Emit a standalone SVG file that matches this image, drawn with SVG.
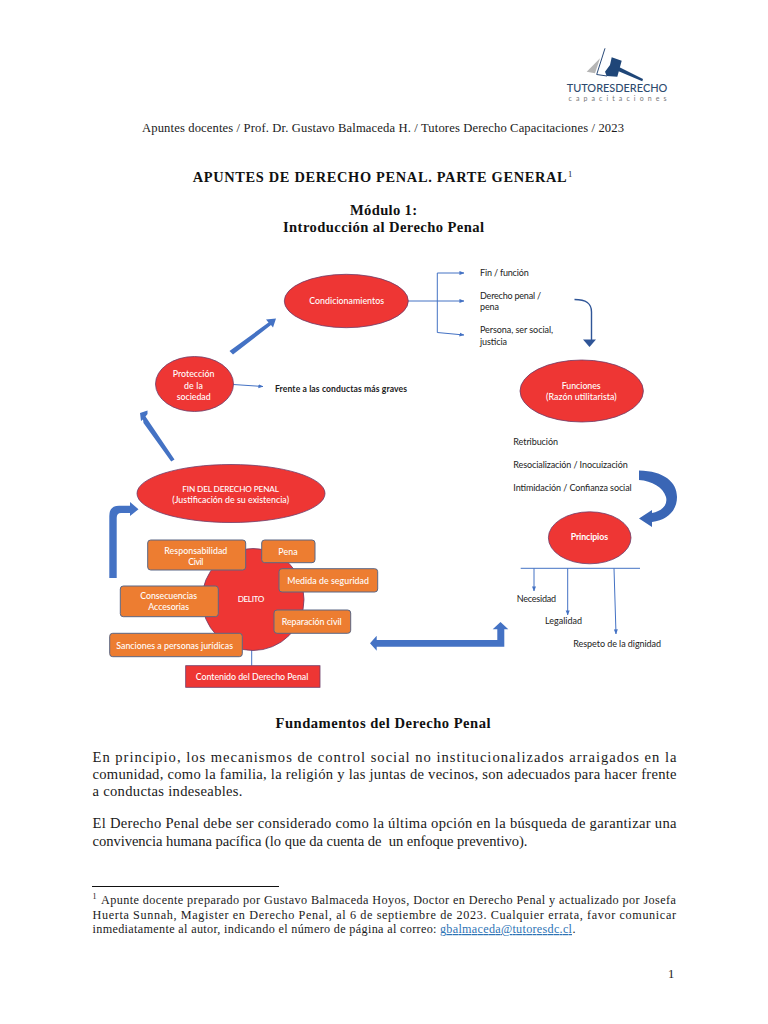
<svg xmlns="http://www.w3.org/2000/svg" width="768" height="1024" viewBox="0 0 768 1024">
<defs>
<style>
.doc{font-family:"Liberation Serif","Times New Roman",serif;fill:#1a1a1a;font-size:14.6px}
.b{font-weight:700;fill:#111}
.d{font-family:Lato,"Open Sans",sans-serif;font-size:9px;fill:#222}
.w{font-family:Lato,"Open Sans",sans-serif;font-size:8.8px;fill:#fff;font-weight:500}
.el{fill:#ee3634;stroke:#6d3c68;stroke-width:.8}
.bx{fill:#ed7d31;stroke:#5b6785;stroke-width:1}
.ln{fill:none;stroke:#4472c4;stroke-width:1}
.fat{fill:#4472c4}
</style>
<marker id="ah" viewBox="0 0 6 6" refX="5.5" refY="3" markerWidth="5" markerHeight="5" orient="auto"><path d="M0 .6L6 3L0 5.4z" fill="#4472c4"/></marker>
</defs>
<rect width="768" height="1024" fill="#fff"/>

<g id="logo">
<path d="M600 58.3L586.7 71.7L595 73.3z" fill="#b5b5b5"/>
<path d="M605 48.3L596.7 74.5L607 76" fill="none" stroke="#2a4a78" stroke-width="1"/>
<path d="M611.7 57.3L621.7 60.7L617.3 76.7L606.7 76L605 71.7L610 65z" fill="#1f4678"/>
<path d="M619 67L643 79L642.3 81.3L618 71z" fill="#1f4678"/>
<text x="566.7" y="91.5" textLength="100.6" lengthAdjust="spacingAndGlyphs" style="font-family:Lato,sans-serif;font-size:11.5px;fill:#2d4a6e;font-weight:500">TUTORESDERECHO</text>
<text x="568.5" y="100.5" textLength="98" lengthAdjust="spacing" style="font-family:Lato,sans-serif;font-size:7px;fill:#777">capacitaciones</text>
</g>

<g id="header">
<text class="doc" x="142" y="132.3" textLength="482" style="font-size:12.6px">Apuntes docentes / Prof. Dr. Gustavo Balmaceda H. / Tutores Derecho Capacitaciones / 2023</text>
<text class="doc b" x="192.7" y="181.7" textLength="374" style="font-size:14.4px">APUNTES DE DERECHO PENAL. PARTE GENERAL</text>
<text class="doc" x="568" y="177" style="font-size:8.5px">1</text>
<text class="doc b" x="350" y="215" textLength="67">Módulo 1:</text>
<text class="doc b" x="283" y="232" textLength="201">Introducción al Derecho Penal</text>
</g>

<g id="connectors">
<path class="ln" d="M408 301H464" marker-end="url(#ah)"/>
<path class="ln" d="M437.3 301V273H464" marker-end="url(#ah)"/>
<path class="ln" d="M437.3 301V332.5L464 335" marker-end="url(#ah)"/>
<path class="ln" d="M233.3 384.5L263 386.5" marker-end="url(#ah)"/>
<path class="ln" d="M520.7 568.3H640"/>
<path class="ln" d="M534 568.3V591" marker-end="url(#ah)"/>
<path class="ln" d="M567.7 568.3V615" marker-end="url(#ah)"/>
<path class="ln" d="M614 568.3L616 634" marker-end="url(#ah)"/>
<path class="ln" d="M251.7 650V665.7"/>
<path d="M574.5 299.5C586 299.5 591.5 303 591.5 312V340" fill="none" stroke="#2f5597" stroke-width="1.4"/>
<path d="M583 339.5H596L589.5 347z" fill="#2f5597"/>
<path class="fat" d="M229.5 351L268.5 322.5L266 319.5L276 318.5L273 327.5L271 325L233 354.5z"/>
<path class="fat" d="M171.2 461.5L143.5 423L143 419.5L141 421L140 413L147.5 410.5L147.5 414L145.5 416.5L174.5 459.5z"/>
<path class="fat" d="M109.3 578V516Q109.3 505.7 119 505.7H130V502L138.5 509.3L130 516V513H121Q116.7 513 116.7 518V578z"/>
<path class="fat" d="M370 643.3L376.7 635.7V640H497.3V629.3H492.7L500.5 622L508.3 629.3H504.3V646.7H376.7V650.7z"/>
<path d="M639 470.5C664 471 677 482 677 497C677 510 668 520 652 522V527L639 518.5L652 510V513C662 511 668 505 666 497C663 487 652 481 639 480z" fill="#3a66b5"/>
</g>

<g id="n-condicionamientos"><ellipse class="el" cx="346.3" cy="301" rx="62" ry="26.7"/><text class="w" x="309.3" y="304" textLength="74.7">Condicionamientos</text></g>
<g id="n-proteccion"><ellipse class="el" cx="194.5" cy="384" rx="39" ry="27.5"/>
<text class="w" x="172.7" y="377" textLength="41.7">Protección</text><text class="w" x="184" y="388.5" textLength="19">de la</text><text class="w" x="176.7" y="400" textLength="34">sociedad</text></g>
<g id="n-funciones"><ellipse class="el" cx="581.7" cy="391" rx="61.7" ry="31"/>
<text class="w" x="561.7" y="388.7" textLength="39">Funciones</text><text class="w" x="546" y="400" textLength="70.7">(Razón utilitarista)</text></g>
<g id="n-principios"><ellipse class="el" cx="589.7" cy="537.8" rx="41.3" ry="26"/><text class="w" x="570.7" y="540" textLength="37.3" style="font-weight:700">Principios</text></g>
<g id="n-fin"><ellipse class="el" cx="231" cy="493.5" rx="94" ry="29"/>
<text class="w" x="182.3" y="491.7" textLength="96.7" style="font-size:8.2px">FIN DEL DERECHO PENAL</text><text class="w" x="172.3" y="503.3" textLength="116.7">(Justificación de su existencia)</text></g>
<g id="n-delito"><circle class="el" cx="253" cy="599.5" r="51"/><text class="w" x="237.7" y="602.3" textLength="26.6" style="font-size:8.2px">DELITO</text></g>
<g id="n-responsabilidad"><rect class="bx" x="147.7" y="540" width="98" height="30" rx="3"/><text class="w" x="164.3" y="554" textLength="63">Responsabilidad</text><text class="w" x="188.3" y="565" textLength="15">Civil</text></g>
<g id="n-pena"><rect class="bx" x="261.7" y="540" width="53.3" height="22.7" rx="3"/><text class="w" x="278.3" y="555" textLength="19.4">Pena</text></g>
<g id="n-medida"><rect class="bx" x="279" y="568.7" width="98.7" height="23.3" rx="3"/><text class="w" x="287.3" y="584" textLength="81.7">Medida de seguridad</text></g>
<g id="n-consecuencias"><rect class="bx" x="120.3" y="586" width="98" height="30.7" rx="3"/><text class="w" x="140.3" y="599" textLength="56.7">Consecuencias</text><text class="w" x="148.3" y="610" textLength="40.7">Accesorias</text></g>
<g id="n-reparacion"><rect class="bx" x="274" y="610" width="76.7" height="23.3" rx="3"/><text class="w" x="281.7" y="625" textLength="60">Reparación civil</text></g>
<g id="n-sanciones"><rect class="bx" x="109.7" y="633.3" width="132.6" height="23.4" rx="3"/><text class="w" x="116.3" y="649" textLength="116.7">Sanciones a personas jurídicas</text></g>
<g id="n-contenido"><rect x="185.7" y="665.7" width="134.3" height="21.6" fill="#ee3634" stroke="#6d3c68" stroke-width=".8"/><text class="w" x="195.7" y="680" textLength="112.6">Contenido del Derecho Penal</text></g>

<g id="labels">
<text class="d" x="275" y="392.3" textLength="132" style="font-weight:700;font-size:8.6px">Frente a las conductas más graves</text>
<text class="d" x="480" y="276" textLength="48.7">Fin / función</text>
<text class="d" x="480" y="299" textLength="61">Derecho penal /</text>
<text class="d" x="480" y="310" textLength="19">pena</text>
<text class="d" x="480" y="332.7" textLength="73">Persona, ser social,</text>
<text class="d" x="480" y="345" textLength="27">justicia</text>
<text class="d" x="513.3" y="445" textLength="44.7">Retribución</text>
<text class="d" x="513.3" y="468.3" textLength="114.4">Resocialización / Inocuización</text>
<text class="d" x="513.3" y="490.7" textLength="118.4">Intimidación / Confianza social</text>
<text class="d" x="516.7" y="601.7" textLength="39.3">Necesidad</text>
<text class="d" x="545" y="624" textLength="37">Legalidad</text>
<text class="d" x="573.3" y="646.7" textLength="87.7">Respeto de la dignidad</text>
</g>

<g id="body">
<text class="doc b" x="275.5" y="727.5" textLength="215">Fundamentos del Derecho Penal</text>
<text class="doc" x="92.5" y="762" textLength="584">En principio, los mecanismos de control social no institucionalizados arraigados en la</text>
<text class="doc" x="92.5" y="779" textLength="584">comunidad, como la familia, la religión y las juntas de vecinos, son adecuados para hacer frente</text>
<text class="doc" x="92.5" y="796" textLength="150">a conductas indeseables.</text>
<text class="doc" x="92.5" y="828" textLength="584">El Derecho Penal debe ser considerado como la última opción en la búsqueda de garantizar una</text>
<text class="doc" x="92.5" y="846" textLength="435" xml:space="preserve">convivencia humana pacífica (lo que da cuenta de  un enfoque preventivo).</text>
</g>

<g id="footnote">
<rect x="92" y="886" width="187" height="1" fill="#111"/>
<text class="doc" x="92.5" y="899" style="font-size:8px">1</text>
<text class="doc" x="101" y="904" textLength="575" style="font-size:12.2px">Apunte docente preparado por Gustavo Balmaceda Hoyos, Doctor en Derecho Penal y actualizado por Josefa</text>
<text class="doc" x="92.5" y="919" textLength="583.5" style="font-size:12.2px">Huerta Sunnah, Magister en Derecho Penal, al 6 de septiembre de 2023. Cualquier errata, favor comunicar</text>
<text class="doc" x="92.5" y="933" textLength="344" style="font-size:12.2px">inmediatamente al autor, indicando el número de página al correo:</text>
<text class="doc" x="440" y="933" textLength="132" style="font-size:12.2px;fill:#2e74b5;text-decoration:underline">gbalmaceda@tutoresdc.cl</text>
<text class="doc" x="572.5" y="933" style="font-size:12.2px">.</text>
<text class="doc" x="668" y="978" style="font-size:12.6px">1</text>
</g>
</svg>
